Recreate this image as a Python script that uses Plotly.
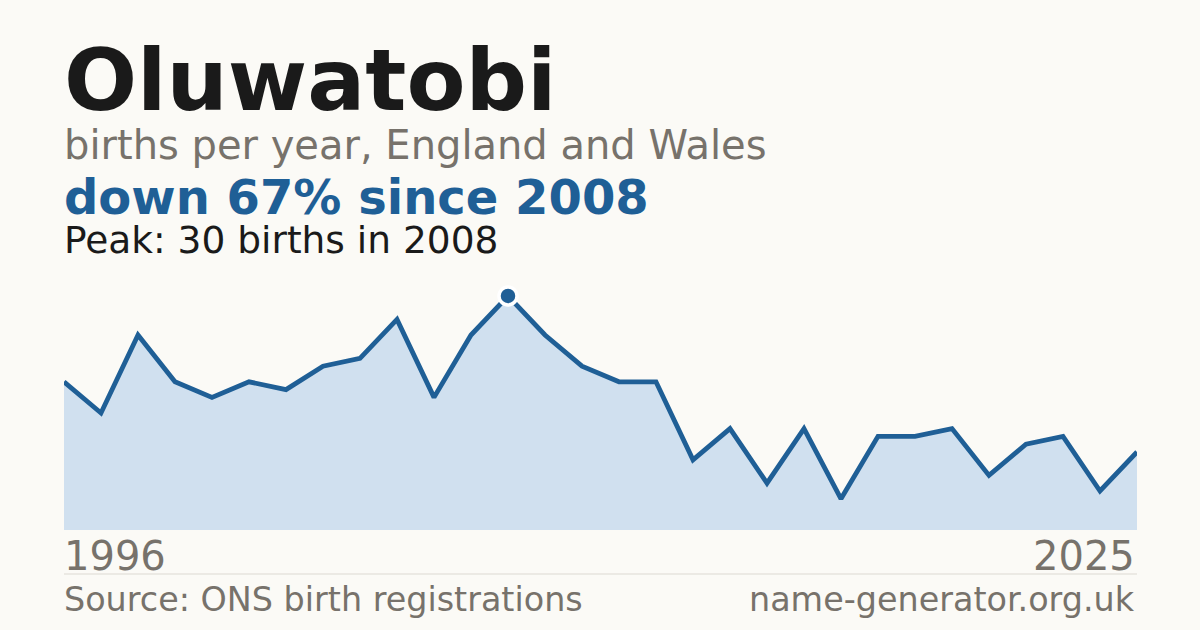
import plotly.graph_objs as go

years = list(range(1996, 2026))
births = [19, 15, 25, 19, 17, 19, 18, 21, 22, 27,
          17, 25, 30, 25, 21, 19, 19, 9, 13, 6,
          13, 4, 12, 12, 13, 7, 11, 12, 5, 10]

peak_year = 2008
peak_value = 30

title_txt = 'Oluwatobi'
subtitle_txt = 'births per year, England and Wales'
trend_txt = 'down 67% since 2008'
peak_txt = 'Peak: 30 births in 2008'
source_txt = 'Source: ONS birth registrations'
site_txt = 'name-generator.org.uk'

BG = '#fbfaf6'
BLUE = '#1f5f96'
GREY = '#77726b'
FONT = 'DejaVu Sans'

W, H = 1200, 630
L, R, T, B = 64, 63, 280, 100
plot_w = W - L - R
plot_h = H - T - B


def py(pixel_y):
    # pixel row -> paper coordinate
    return (H - B - pixel_y) / plot_h


x_left = -1.5 / plot_w
x_right = 1 - 1.5 / plot_w

area = go.Scatter(
    x=years, y=births, mode='lines', fill='tozeroy',
    fillcolor='#d0e0ef', line={'color': BLUE, 'width': 4.8},
    hoverinfo='skip', showlegend=False,
)
peak = go.Scatter(
    x=[peak_year], y=[peak_value], mode='markers',
    marker={'size': 18, 'color': BLUE, 'line': {'color': 'white', 'width': 3.5}},
    hoverinfo='skip', showlegend=False,
)

annotations = [
    dict(text=f'<b>{title_txt}</b>', x=x_left, y=py(80), font={'size': 86, 'color': '#1a1a1a'}),
    dict(text=subtitle_txt, x=x_left, y=py(145), font={'size': 40, 'color': GREY}),
    dict(text=f'<b>{trend_txt}</b>', x=x_left, y=py(197), font={'size': 48, 'color': BLUE}),
    dict(text=peak_txt, x=x_left, y=py(240), font={'size': 37.5, 'color': '#1a1a1a'}),
    dict(text=str(years[0]), x=x_left, y=py(556), font={'size': 40, 'color': GREY}),
    dict(text=str(years[-1]), x=x_right, y=py(556), xanchor='right', font={'size': 40, 'color': GREY}),
    dict(text=source_txt, x=x_left, y=py(599), font={'size': 33.4, 'color': GREY}),
    dict(text=site_txt, x=x_right, y=py(599), xanchor='right', font={'size': 33.4, 'color': GREY}),
]
for a in annotations:
    a.setdefault('xanchor', 'left')
    a.update(xref='paper', yref='paper', yanchor='middle', showarrow=False, borderpad=0)
    a['font']['family'] = FONT

fig = go.Figure(data=[area, peak], layout=go.Layout({
    'width': W, 'height': H,
    'margin': {'l': L, 'r': R, 't': T, 'b': B, 'pad': 0},
    'paper_bgcolor': BG, 'plot_bgcolor': BG,
    'xaxis': {'range': [years[0], years[-1]], 'visible': False, 'fixedrange': True},
    'yaxis': {'range': [0, 32.05], 'visible': False, 'fixedrange': True},
    'annotations': annotations,
    'shapes': [{'type': 'line', 'xref': 'paper', 'yref': 'paper',
                'x0': 0, 'x1': 1, 'y0': py(574), 'y1': py(574),
                'line': {'color': '#dcd9d2', 'width': 1}}],
}))

# page body has a default 8px margin, drop it so the figure fills the window
fig.write_html('out.html', config={'displayModeBar': False},
               post_script="document.body.style.margin='0';")
